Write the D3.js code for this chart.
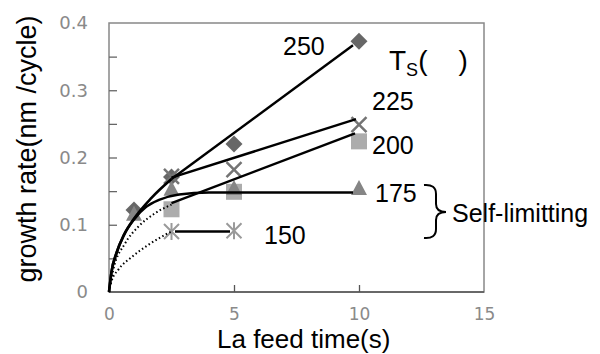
<!DOCTYPE html>
<html>
<head>
<meta charset="utf-8">
<script src="https://cdn.jsdelivr.net/npm/d3@7"></script>
<style>
  body { margin: 0; background: #fff; }
  svg { display: block; }
</style>
</head>
<body>
<div id="chart"></div>
<script>
// Measured points, one pair of arrays per substrate temperature
const feed250 = [1, 2.5, 5, 10];
const rate250 = [0.122, 0.171, 0.22, 0.373];
const feed225 = [2.5, 5, 10];
const rate225 = [0.172, 0.182, 0.249];
const feed200 = [2.5, 5, 10];
const rate200 = [0.123, 0.149, 0.224];
const feed175 = [1, 2.5, 5, 10];
const rate175 = [0.115, 0.152, 0.153, 0.153];
const feed150 = [2.5, 5];
const rate150 = [0.09, 0.091];

// Guide lines (solid curves, straight segments, dotted curves)
const curve250 = [[0, 0], [0.1, 0.03], [0.3, 0.058], [0.6, 0.085], [1, 0.109], [1.7, 0.14], [2.5, 0.168]];
const line250 = [[2.5, 0.168], [9.76, 0.367]];
const line225 = [[2.5, 0.17], [9.88, 0.257]];
const line200 = [[2.5, 0.132], [9.84, 0.236]];
const curve175 = [[0, 0], [0.1, 0.03], [0.3, 0.058], [0.6, 0.085], [1, 0.108], [1.5, 0.127], [2, 0.137], [2.8, 0.145], [4, 0.148], [9.76, 0.148]];
const line150 = [[2.64, 0.09], [4.84, 0.09]];
const dotted200 = [[0, 0], [0.17, 0.033], [0.64, 0.072], [1.17, 0.097], [1.84, 0.117], [2.5, 0.13]];
const dotted150 = [[0, 0], [0.1, 0.016], [0.37, 0.033], [0.91, 0.052], [1.57, 0.07], [2.24, 0.085], [2.5, 0.09]];

// Axis ticks and text
const xTicks = [0, 5, 10, 15];
const yTicks = [0, 0.1, 0.2, 0.3, 0.4];
const yMinor = [0.05, 0.1, 0.15, 0.2, 0.25, 0.3, 0.35];
const seriesNames = ["250", "225", "200", "175", "150"];
const labelAt = [[6.96, 0.352], [10.52, 0.271], [10.52, 0.205], [10.64, 0.134], [6.2, 0.072]];

const W = 600, H = 354;
const svg = d3.select("#chart").append("svg")
    .attr("width", W)
    .attr("height", H)
    .style("font-family", "'Liberation Sans', Arial, sans-serif");

const x = d3.scaleLinear().domain([0, 15]).range([109, 484]);
const y = d3.scaleLinear().domain([0, 0.4]).range([292, 23]);

// Frame
svg.append("rect")
    .attr("x", x(0)).attr("y", y(0.4))
    .attr("width", x(15) - x(0)).attr("height", y(0) - y(0.4))
    .attr("fill", "none")
    .attr("stroke", "#888")
    .attr("stroke-width", 1.5);

// Inner tick marks
svg.append("g")
    .attr("transform", `translate(${x(0)},0)`)
    .call(d3.axisRight(y).tickValues(yMinor).tickSize(8).tickFormat(""))
    .call(g => g.select(".domain").remove())
    .selectAll("line").attr("stroke", "#666").attr("stroke-width", 1.3);

svg.append("g")
    .attr("transform", `translate(0,${y(0)})`)
    .call(d3.axisTop(x).tickValues([5, 10]).tickSize(7).tickFormat(""))
    .call(g => g.select(".domain").remove())
    .selectAll("line").attr("stroke", "#555").attr("stroke-width", 1.3);

// bottom axis line a bit darker
svg.append("line")
    .attr("x1", x(0)).attr("x2", x(15))
    .attr("y1", y(0)).attr("y2", y(0))
    .attr("stroke", "#555").attr("stroke-width", 1.5);

// Tick labels
svg.append("g")
    .attr("transform", `translate(${x(0)},0)`)
    .call(d3.axisLeft(y).tickValues(yTicks).tickSize(0).tickPadding(21).tickFormat(d => d))
    .call(g => g.select(".domain").remove())
    .selectAll("text")
    .attr("fill", "#8a8a8a")
    .style("font-family", "'DejaVu Sans', sans-serif")
    .style("font-size", "18px");

svg.append("g")
    .attr("transform", `translate(0,${y(0)})`)
    .call(d3.axisBottom(x).tickValues(xTicks).tickSize(0).tickPadding(16))
    .call(g => g.select(".domain").remove())
    .selectAll("text")
    .attr("fill", "#8a8a8a")
    .style("font-family", "'DejaVu Sans', sans-serif")
    .style("font-size", "17px");

// Markers
const pts = (xs, ys) => xs.map((d, i) => [d, ys[i]]);

const marks = svg.append("g");

marks.selectAll(".diamond")
    .data(pts(feed250, rate250))
    .join("rect")
    .attr("x", -6).attr("y", -6).attr("width", 12).attr("height", 12)
    .attr("transform", d => `translate(${x(d[0])},${y(d[1])}) rotate(45)`)
    .attr("fill", "#676767");

marks.selectAll(".square")
    .data(pts(feed200, rate200))
    .join("rect")
    .attr("x", d => x(d[0]) - 8).attr("y", d => y(d[1]) - 8)
    .attr("width", 16).attr("height", 16)
    .attr("fill", "#acacac");

marks.selectAll(".tri")
    .data(pts(feed175, rate175))
    .join("path")
    .attr("d", d => {
        const cx = x(d[0]), cy = y(d[1]);
        return `M${cx},${cy - 9}L${cx + 8},${cy + 6}L${cx - 8},${cy + 6}Z`;
    })
    .attr("fill", "#858585");

marks.selectAll(".cross")
    .data(pts(feed225, rate225))
    .join("path")
    .attr("d", d => {
        const cx = x(d[0]), cy = y(d[1]), r = 7.5;
        return `M${cx - r},${cy - r}L${cx + r},${cy + r}M${cx - r},${cy + r}L${cx + r},${cy - r}`;
    })
    .attr("stroke", "#747474")
    .attr("stroke-width", 2.5)
    .attr("fill", "none");

marks.selectAll(".star")
    .data(pts(feed150, rate150))
    .join("path")
    .attr("d", d => {
        const cx = x(d[0]), cy = y(d[1]), r = 7.5;
        return `M${cx - r},${cy - r}L${cx + r},${cy + r}M${cx - r},${cy + r}L${cx + r},${cy - r}M${cx},${cy - r - 1}L${cx},${cy + r + 1}`;
    })
    .attr("stroke", "#9a9a9a")
    .attr("stroke-width", 2)
    .attr("fill", "none");

// Guide lines on top of the markers
const smooth = d3.line().x(d => x(d[0])).y(d => y(d[1])).curve(d3.curveMonotoneX);
const straight = d3.line().x(d => x(d[0])).y(d => y(d[1]));

const lines = svg.append("g")
    .attr("fill", "none")
    .attr("stroke", "#000");

[curve250, curve175].forEach(c => {
    lines.append("path").attr("d", smooth(c)).attr("stroke-width", 2.6);
});
[line250, line225, line200, line150].forEach(c => {
    lines.append("path").attr("d", straight(c)).attr("stroke-width", 2.4);
});
[dotted200, dotted150].forEach(c => {
    lines.append("path").attr("d", smooth(c))
        .attr("stroke-width", 2)
        .attr("stroke-dasharray", "1.5,2.5");
});

// Series labels
svg.append("g")
    .selectAll("text")
    .data(seriesNames)
    .join("text")
    .attr("x", (d, i) => x(labelAt[i][0]))
    .attr("y", (d, i) => y(labelAt[i][1]))
    .style("font-size", "25px")
    .attr("fill", "#000")
    .text(d => d);

// Ts( ) heading
const ts = svg.append("text")
    .attr("x", 389).attr("y", 70)
    .style("font-size", "28px")
    .style("white-space", "pre");
ts.append("tspan").text("T");
ts.append("tspan").attr("dy", 6).style("font-size", "18px").text("S");
ts.append("tspan").attr("dy", -6).text("(    )");

// Brace and note
svg.append("path")
    .attr("d", "M424,185 Q436,184 436,194 L436,204 Q436,212 446,212 Q436,212 436,220 L436,229 Q436,239 424,238")
    .attr("fill", "none")
    .attr("stroke", "#000")
    .attr("stroke-width", 2);

svg.append("text")
    .attr("x", 452).attr("y", 222)
    .style("font-size", "25px")
    .text("Self-limitting");

// Axis titles
svg.append("text")
    .attr("x", 217).attr("y", 348)
    .style("font-size", "26px")
    .text("La feed time(s)");

svg.append("text")
    .attr("transform", "rotate(-90)")
    .attr("x", -149).attr("y", 36)
    .attr("text-anchor", "middle")
    .style("font-size", "27px")
    .text("growth rate(nm /cycle)");
</script>
</body>
</html>
